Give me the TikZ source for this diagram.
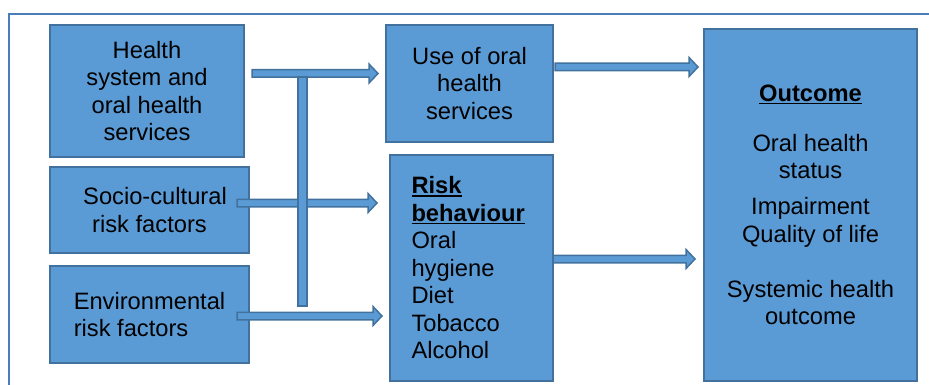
\documentclass[tikz,border=0pt]{standalone}
\usepackage{fontspec}
\setmainfont{Liberation Sans}
\usetikzlibrary{calc}
\definecolor{boxfill}{HTML}{5B9BD5}
\definecolor{boxline}{HTML}{41719C}
\definecolor{frameline}{HTML}{4A7EBB}
\newcommand{\blockarr}[2]{\draw[arrowbody] let \p1=(#1), \p2=(#2) in (\x1,\y1+3.75pt) -- (\x2-9pt,\y1+3.75pt) -- (\x2-9pt,\y1+9.5pt) -- (\x2,\y1) -- (\x2-9pt,\y1-9.5pt) -- (\x2-9pt,\y1-3.75pt) -- (\x1,\y1-3.75pt) -- cycle;}
\newcommand{\ulbold}[1]{\leavevmode\setbox0\hbox{\textbf{#1}}\rlap{\rule[-3pt]{\wd0}{1.6pt}}\box0}
\begin{document}
\begin{tikzpicture}[x=1pt,y=-1pt,
  box/.style={draw=boxline, line width=2pt, fill=boxfill, anchor=north west, inner sep=0pt,
    font=\fontsize{23.7}{27.5}\selectfont},
  arrowbody/.style={draw=boxline, line width=1.5pt, fill=boxfill, line join=miter}]
\useasboundingbox (0,0) rectangle (929,385);
% frame
\draw[frameline, line width=2pt] (9,385) -- (9,14) -- (929,14);
% boxes
\node[box, minimum width=194pt, minimum height=132pt, align=center] (h1) at (49,24)
  {Health\\system and\\oral health\\services};
\node[box, minimum width=199pt, minimum height=86pt, align=center] (soc) at (49,166)
  {\hspace*{11pt}Socio-cultural\\risk factors};
\node[box, minimum width=199pt, minimum height=97pt, align=left] (env) at (49,265)
  {Environmental\\risk factors\hspace*{5pt}};
\node[box, minimum width=167pt, minimum height=117pt, align=center] (use) at (385,24)
  {Use of oral\\health\\services};
\node[box, minimum width=163pt, minimum height=226pt, text width=120pt, align=left] (risk) at (389,154)
  {\ulbold{Risk}\\\ulbold{behaviour}\\Oral\\hygiene\\Diet\\Tobacco\\Alcohol};
\node[box, minimum width=213pt, minimum height=352pt, align=center] (out) at (703,28)
  {\ulbold{Outcome}\\[22.5pt]Oral health\\status\\[8.5pt]Impairment\\Quality of life\\[27.5pt]Systemic health\\outcome};
% arrows
\coordinate (a1s) at (252,73.5); \coordinate (a1e) at (378,73.5);
\coordinate (a2s) at (237,203);  \coordinate (a2e) at (377,203);
\coordinate (a3s) at (237,316);  \coordinate (a3e) at (382,316);
\coordinate (a4s) at (555,67);   \coordinate (a4e) at (698,67);
\coordinate (a5s) at (553,259);  \coordinate (a5e) at (695,259);
\blockarr{a1s}{a1e}
\blockarr{a2s}{a2e}
\blockarr{a3s}{a3e}
\blockarr{a4s}{a4e}
\blockarr{a5s}{a5e}
\coordinate (bt) at (298,77); \coordinate (bb) at (307,306);
\draw[arrowbody] (bt) rectangle (bb);
\end{tikzpicture}
\end{document}
